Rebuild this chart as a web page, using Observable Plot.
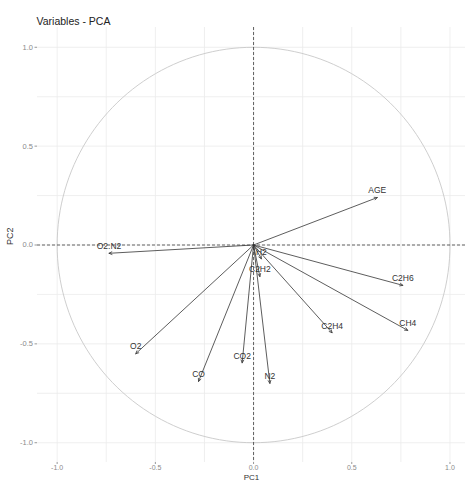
<!DOCTYPE html>
<html>
<head>
<meta charset="utf-8">
<script src="https://cdn.jsdelivr.net/npm/d3@7"></script>
<script src="https://cdn.jsdelivr.net/npm/@observablehq/plot@0.6"></script>
<style>
  html, body { margin: 0; padding: 0; background: #fff; }
</style>
</head>
<body>
<div id="chart"></div>
<script>
const variables = ["AGE", "C2H6", "CH4", "C2H4", "H2", "C2H2", "O2.N2", "O2", "CO", "CO2", "N2"];
const pc1 = [0.63, 0.76, 0.785, 0.40, 0.04, 0.032, -0.736, -0.60, -0.28, -0.058, 0.083];
const pc2 = [0.24, -0.204, -0.432, -0.444, -0.07, -0.16, -0.042, -0.55, -0.69, -0.596, -0.70];
const tickValues = [-1, -0.5, 0, 0.5, 1];
const gridValues = [-1, -0.75, -0.5, -0.25, 0, 0.25, 0.5, 0.75, 1];
const title = "Variables - PCA";

const data = variables.map((v, i) => ({name: v, x: pc1[i], y: pc2[i]}));
const circle = d3.range(0, 361, 2).map(a => ({x: Math.cos(a * Math.PI / 180), y: Math.sin(a * Math.PI / 180)}));
const fmt = d => d.toFixed(1);

const chart = Plot.plot({
  width: 465,
  height: 481,
  marginLeft: 37,
  marginRight: 0,
  marginTop: 27,
  marginBottom: 19,
  style: {fontFamily: "Liberation Sans, Arial, sans-serif", background: "#fff"},
  x: {domain: [-1.1, 1.079], ticks: tickValues, tickFormat: fmt, label: null},
  y: {domain: [-1.1, 1.1], ticks: tickValues, tickFormat: fmt, label: null},
  marks: [
    Plot.gridX(gridValues, {stroke: "#ebebeb", strokeOpacity: 1, strokeWidth: 0.8}),
    Plot.gridY(gridValues, {stroke: "#ebebeb", strokeOpacity: 1, strokeWidth: 0.8}),
    Plot.axisX(tickValues, {tickFormat: fmt, tickSize: 2, tickPadding: 1, stroke: "#999", fill: "#8a8a8a", fontSize: 7, label: null}),
    Plot.axisY(tickValues, {tickFormat: fmt, tickSize: 2.5, tickPadding: 2, stroke: "#999", fill: "#8a8a8a", fontSize: 7.5, label: null}),
    Plot.line(circle, {x: "x", y: "y", stroke: "#c8c8c8", strokeWidth: 0.9}),
    Plot.ruleY([0], {stroke: "#222", strokeDasharray: "3,2", strokeWidth: 0.7}),
    Plot.ruleX([0], {stroke: "#222", strokeDasharray: "3,2", strokeWidth: 0.7}),
    Plot.arrow(data, {x1: () => 0, y1: () => 0, x2: "x", y2: "y", stroke: "#333", strokeWidth: 0.8, headLength: 6, headAngle: 50}),
    Plot.text(data, {x: "x", y: "y", text: "name", dy: -7, fill: "#333", fontSize: 8.5}),
    Plot.text([title], {frameAnchor: "top-left", dx: -1, dy: -10, textAnchor: "start", fontSize: 10.5, fill: "#222"}),
    Plot.text(["PC1"], {frameAnchor: "bottom", dy: 17, fontSize: 8, fill: "#333"}),
    Plot.text(["PC2"], {frameAnchor: "left", dx: -27, rotate: -90, fontSize: 9, fill: "#333"})
  ]
});
document.getElementById("chart").appendChild(chart);
</script>
</body>
</html>
